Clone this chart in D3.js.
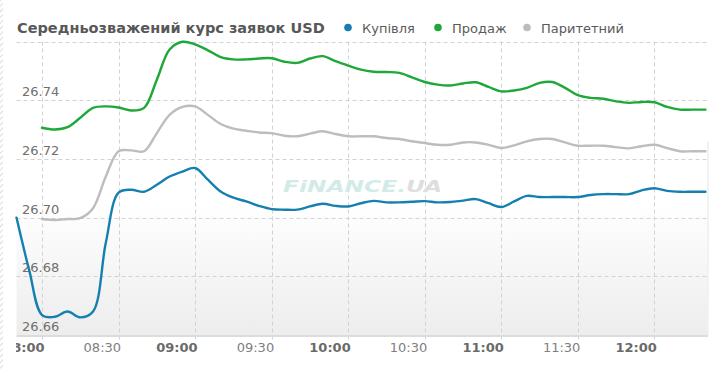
<!DOCTYPE html>
<html><head><meta charset="utf-8">
<script src="https://cdn.jsdelivr.net/npm/d3@7"></script>
<style>html,body{margin:0;padding:0;background:#fff;}svg{display:block;}</style>
</head><body>
<svg id="c" width="720" height="369"></svg>
<script>
const title = "Середньозважений курс заявок USD";
const seriesNames = ["Купівля", "Продаж", "Паритетний"];
const seriesColors = ["#1580b0", "#1ea83a", "#bdbdbd"];
const times = ["07:50","07:55",
 "08:00","08:05","08:10","08:15","08:20","08:25","08:30","08:35","08:40","08:45","08:50","08:55",
 "09:00","09:05","09:10","09:15","09:20","09:25","09:30","09:35","09:40","09:45","09:50","09:55",
 "10:00","10:05","10:10","10:15","10:20","10:25","10:30","10:35","10:40","10:45","10:50","10:55",
 "11:00","11:05","11:10","11:15","11:20","11:25","11:30","11:35","11:40","11:45","11:50","11:55",
 "12:00","12:05","12:10","12:15","12:20"];
const buy = [26.700,26.682,
 26.6668,26.6662,26.668,26.666,26.668,26.6914,26.7085,26.7095,26.7088,26.7112,26.714,26.7157,
 26.7169,26.7129,26.7089,26.7068,26.7055,26.704,26.7029,26.7027,26.7027,26.7038,26.7047,26.704,
 26.7038,26.7049,26.7057,26.7052,26.7052,26.7054,26.7056,26.7052,26.7053,26.7058,26.7063,26.7049,
 26.7036,26.7055,26.7074,26.707,26.707,26.707,26.707,26.7077,26.708,26.708,26.708,26.7093,
 26.710,26.7091,26.7088,26.7088,26.7088];
const sell = [null,null,
 26.7306,26.730,26.7308,26.734,26.7374,26.7379,26.7375,26.7365,26.7374,26.747,26.7573,26.7599,
 26.759,26.757,26.7547,26.7539,26.7539,26.7542,26.7543,26.7531,26.7527,26.7542,26.755,26.7533,
 26.7518,26.7504,26.7497,26.7496,26.7493,26.7478,26.7462,26.7453,26.745,26.7457,26.7461,26.7445,
 26.743,26.7433,26.7442,26.7459,26.7462,26.7442,26.7417,26.7408,26.7405,26.7396,26.7391,26.7394,
 26.7393,26.7377,26.7368,26.7368,26.7368];
const parity = [null,null,
 26.6995,26.6992,26.6995,26.6998,26.7032,26.714,26.7226,26.7229,26.7226,26.7288,26.735,26.7377,
 26.7379,26.735,26.7319,26.7303,26.7296,26.729,26.7288,26.7279,26.7277,26.7286,26.7294,26.7285,
 26.7277,26.7277,26.7277,26.7271,26.7268,26.726,26.7254,26.7248,26.7248,26.7256,26.7256,26.7248,
 26.7237,26.7246,26.726,26.7268,26.7268,26.7256,26.7245,26.7245,26.7245,26.724,26.7236,26.7243,
 26.7248,26.7237,26.7226,26.7226,26.7226];
const xTicks = ["08:00","08:30","09:00","09:30","10:00","10:30","11:00","11:30","12:00"];
const yTicks = [26.66, 26.68, 26.70, 26.72, 26.74];
const yGrid = [26.68, 26.70, 26.72, 26.74, 26.76];

const toMin = s => { const [h,m] = s.split(":").map(Number); return h*60+m; };
const svg = d3.select("#c");
const L = 16.5, R = 708, T = 41.5, B = 335;
const x = d3.scaleLinear().domain([toMin("07:50"), toMin("12:20")+0.8]).range([L, R - 0.5]);
const y = d3.scaleLinear().domain([26.66, 26.76]).range([B, T]);

const defs = svg.append("defs");
const grad = defs.append("linearGradient").attr("id","bg").attr("x1",0).attr("y1",0).attr("x2",0).attr("y2",1);
grad.append("stop").attr("offset","0%").attr("stop-color","#ffffff");
grad.append("stop").attr("offset","55%").attr("stop-color","#ffffff");
grad.append("stop").attr("offset","100%").attr("stop-color","#ededed");
const pat = defs.append("pattern").attr("id","hatch").attr("width",4).attr("height",4)
  .attr("patternUnits","userSpaceOnUse").attr("patternTransform","rotate(45)");
pat.append("line").attr("x1",0).attr("y1",0).attr("x2",0).attr("y2",4).attr("stroke","#d0d0d0").attr("stroke-width",1.5);
defs.append("clipPath").attr("id","clipx").append("rect").attr("x",L-0.5).attr("y",0).attr("width",720).attr("height",369);

svg.append("rect").attr("x",0).attr("y",0).attr("width",3).attr("height",369).attr("fill","url(#hatch)");

// plot background
svg.append("rect").attr("x",L).attr("y",T).attr("width",R-L).attr("height",B-T).attr("fill","url(#bg)");
svg.append("line").attr("x1",R).attr("x2",R).attr("y1",T+100).attr("y2",B).attr("stroke","#f2f2f2").attr("stroke-width",2);

// grid
const grid = svg.append("g").attr("stroke","#d2d2d2").attr("stroke-dasharray","4,3").attr("stroke-width",1);
grid.selectAll("line.h").data(yGrid).join("line").attr("class","h")
  .attr("x1",L).attr("x2",R).attr("y1",d=>Math.round(y(d))+0.5).attr("y2",d=>Math.round(y(d))+0.5);
grid.selectAll("line.v").data(xTicks).join("line").attr("class","v")
  .attr("x1",d=>Math.round(x(toMin(d)))+0.5).attr("x2",d=>Math.round(x(toMin(d)))+0.5)
  .attr("y1",T).attr("y2",B+7);
svg.append("line").attr("x1",L).attr("x2",R).attr("y1",B+1).attr("y2",B+1).attr("stroke","#dcdcdc").attr("stroke-width",2);

// watermark
const wm = svg.append("text").attr("x",283).attr("y",192).attr("font-family","DejaVu Sans")
  .attr("font-size",16).attr("font-weight","bold").attr("font-style","italic")
  .attr("textLength",159).attr("lengthAdjust","spacingAndGlyphs");
wm.append("tspan").attr("fill","#d3ebe8").text("FiNANCE.");
wm.append("tspan").attr("fill","#dedede").text("UA");

// y labels
svg.append("g").selectAll("text").data(yTicks).join("text")
  .attr("x",22).attr("y",d=>y(d)-4).attr("font-family","DejaVu Sans").attr("font-size",13)
  .attr("fill","#6f6f6f").text(d=>d.toFixed(2));

// x labels
svg.append("g").attr("clip-path","url(#clipx)").selectAll("text").data(xTicks).join("text")
  .attr("x",d=>x(toMin(d))+2.5).attr("y",352).attr("text-anchor","end")
  .attr("font-family","DejaVu Sans").attr("font-size",13)
  .attr("font-weight",d=>d.endsWith(":00")?"bold":"normal")
  .attr("fill",d=>d.endsWith(":00")?"#6a6a6a":"#808080").text(d=>d);

// lines
const data = [buy, sell, parity];
const line = d3.line().defined(d=>d.v!=null).x(d=>x(toMin(d.t))).y(d=>y(d.v)).curve(d3.curveCatmullRom.alpha(0.5));
[2,1,0].forEach(i => {
  svg.append("path").datum(times.map((t,j)=>({t, v:data[i][j]})))
    .attr("d", line).attr("fill","none").attr("stroke",seriesColors[i])
    .attr("stroke-width",2.4).attr("stroke-linejoin","round").attr("stroke-linecap","round");
});

// title
const tt = svg.append("text").attr("x",17).attr("y",33).attr("font-family","DejaVu Sans")
  .attr("font-weight","bold").attr("font-size",14).attr("fill","#585858").text(title);
const tw = tt.node().getComputedTextLength();
tt.attr("font-size", 14*308/tw);

// legend
const legX = [348, 438, 527];
const lg = svg.append("g");
seriesNames.forEach((n,i)=>{
  lg.append("circle").attr("cx",legX[i]).attr("cy",27.5).attr("r",3.8).attr("fill",seriesColors[i]);
  lg.append("text").attr("x",legX[i]+14).attr("y",33).attr("font-family","DejaVu Sans")
    .attr("font-size",13).attr("fill","#5a5a5a").text(n);
});
</script>
</body></html>
